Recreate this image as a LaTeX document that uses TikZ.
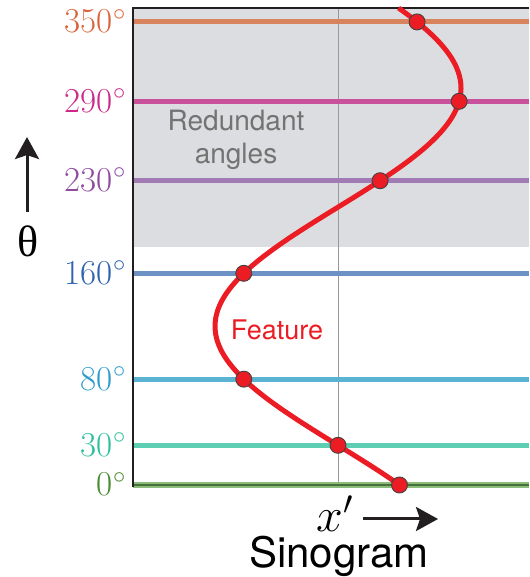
\documentclass[tikz,border=0pt]{standalone}
\usepackage{fix-cm}
\usepackage{fontspec}
\newfontfamily\helv{TeX Gyre Heros}
\newfontfamily\thetafont{Liberation Serif}
\usetikzlibrary{arrows.meta}
\definecolor{redund}{HTML}{DCDDE0}
\definecolor{feat}{HTML}{EC1C24}
\definecolor{axisk}{HTML}{231F20}
\definecolor{t350}{HTML}{D8633A}
\definecolor{l350}{HTML}{D9825E}
\definecolor{t290}{HTML}{CC2A8A}
\definecolor{l290}{HTML}{C9509A}
\definecolor{t230}{HTML}{8E4A9E}
\definecolor{l230}{HTML}{A27BB5}
\definecolor{t160}{HTML}{2F62B0}
\definecolor{l160}{HTML}{6C91C4}
\definecolor{t80}{HTML}{2E9CC9}
\definecolor{l80}{HTML}{5BB3D4}
\definecolor{t30}{HTML}{2EC09E}
\definecolor{l30}{HTML}{5CCFB3}
\definecolor{t0}{HTML}{4A8B32}
\definecolor{l0}{HTML}{8CBB7A}
\definecolor{d0}{HTML}{44703A}
\tikzset{
  lvl/.style={line width=5pt},
  deg/.style={anchor=base east,inner sep=0pt,yshift=-11pt,
              font=\fontsize{35}{40}\selectfont},
  dot/.style={circle,fill=feat,draw=axisk!85,line width=0.9pt,
              inner sep=0pt,minimum size=16pt},
  arr/.style={-{Stealth[length=22pt,width=24pt,inset=4pt]},line width=3pt,draw=axisk},
  sans/.style={inner sep=0pt,align=center}
}
\begin{document}
\begin{tikzpicture}[x=1pt,y=1.323pt]
  \useasboundingbox (0,-69.54) rectangle (529,366.58);
  % redundant half of the sinogram
  \fill[redund] (133,180) rectangle (529,360.5);
  \draw[black!40,line width=1pt] (338,0) -- (338,360.5);

  % angle lines and labels
  \draw[l0,line width=6pt] (133,0) -- (529,0);
  \draw[d0,line width=2.5pt] (133,0) -- (529,0);
  \node[deg,text=t0] (lbl0) at (126,0) {0$^\circ$};
  \foreach \ang in {30,80,160,230,290,350}{
    \draw[lvl,l\ang] (133,\ang) -- (529,\ang);
    \node[deg,text=t\ang] (lbl\ang) at (126,\ang) {\ang$^\circ$};
  }

  % axes
  \draw[axisk,line width=2.5pt] (133,-1.5) -- (133,360.5) -- (529,360.5);

  \node[sans,text=black!55,font=\helv\fontsize{28}{33}\selectfont]
    (redtxt) at (236,260.8) {Redundant\\angles};

  % feature curve
  \draw[feat,line width=5pt] plot[domain=0:360.5,samples=120,smooth]
    ({338+123*cos(\x-300)},\x);
  \node[sans,text=feat,font=\helv\fontsize{27}{32}\selectfont] (feattxt) at (277,117.2) {Feature};
  \foreach \ang in {0,30,80,160,230,290,350}
    \node[dot] (dot\ang) at ({338+123*cos(\ang-300)},\ang) {};

  % theta axis
  \coordinate (thtail) at (27,206.3);
  \coordinate (thhead) at (27,263);
  \draw[arr] (thtail) -- (thhead);
  \node[inner sep=0pt,font=\thetafont\fontsize{44}{48}\selectfont] (thlbl) at (28,184.5) {θ};

  % x' axis
  \node[anchor=base,inner sep=0pt,font=\fontsize{48}{54}\selectfont] (xlbl) at (335,-35.5) {$x'$};
  \coordinate (xtail) at (363,-25.7);
  \coordinate (xhead) at (438,-25.7);
  \draw[arr] (xtail) -- (xhead);
  \node[anchor=base,inner sep=0pt,font=\helv\fontsize{42}{48}\selectfont] (sino) at (339,-62.7) {Sinogram};
\end{tikzpicture}
\end{document}
